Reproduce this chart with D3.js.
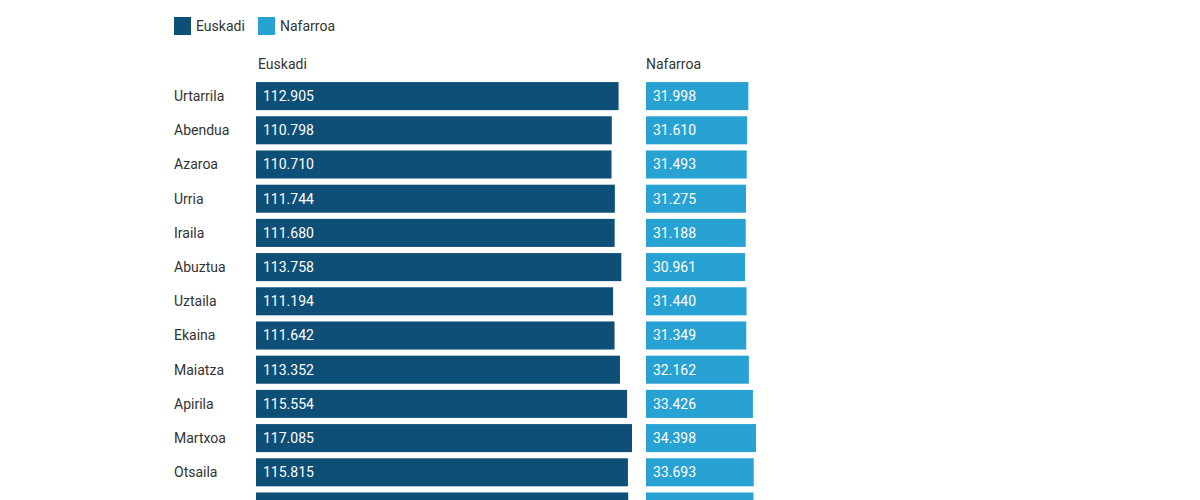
<!DOCTYPE html>
<html><head><meta charset="utf-8">
<script src="https://cdn.jsdelivr.net/npm/d3@7"></script>
<style>body{margin:0;background:#fff;font-family:Roboto,sans-serif;}</style>
</head><body><div id="chart"></div>
<script>
var months = ['Urtarrila', 'Abendua', 'Azaroa', 'Urria', 'Iraila', 'Abuztua', 'Uztaila', 'Ekaina', 'Maiatza', 'Apirila', 'Martxoa', 'Otsaila', 'Urtarrila '];
var euskadi = [112905, 110798, 110710, 111744, 111680, 113758, 111194, 111642, 113352, 115554, 117085, 115815, 115911];
var nafarroa = [31998, 31610, 31493, 31275, 31188, 30961, 31440, 31349, 32162, 33426, 34398, 33693, 33619];
var series = ['Euskadi', 'Nafarroa'];
var colors = ['#0e4f78', '#27a2d3'];

var svg = d3.select('#chart').append('svg').attr('width', 1200).attr('height', 500);
var fmt = function (v) { return d3.format(',')(v).replace(/,/g, '.'); };

var y = d3.scaleBand().domain(d3.range(months.length)).range([79, 79 + 34.2 * months.length]).paddingInner(0.18).paddingOuter(0.09);
var xE = d3.scaleLinear().domain([0, 117085]).range([0, 376]);
var xN = d3.scaleLinear().domain([0, 34398]).range([0, 110]);

// legend
var leg = svg.append('g').selectAll('g').data(series).enter().append('g')
    .attr('transform', function (d, i) { return 'translate(' + (174 + i * 84) + ',17)'; });
leg.append('rect').attr('width', 17).attr('height', 18).attr('fill', function (d, i) { return colors[i]; });
leg.append('text').attr('x', 22).attr('y', 14).attr('font-size', 14).attr('fill', '#333').text(function (d) { return d; });

svg.append('text').attr('x', 258).attr('y', 69).attr('font-size', 14).attr('fill', '#333').text('Euskadi');
svg.append('text').attr('x', 646).attr('y', 69).attr('font-size', 14).attr('fill', '#333').text('Nafarroa');

var rows = svg.append('g').selectAll('g').data(months).enter().append('g')
    .attr('transform', function (d, i) { return 'translate(0,' + y(i) + ')'; });
rows.append('text').attr('x', 174).attr('y', y.bandwidth() / 2 + 5).attr('font-size', 14).attr('fill', '#333').text(function (d) { return d.trim(); });
rows.append('rect').attr('x', 256).attr('width', function (d, i) { return xE(euskadi[i]); })
    .attr('height', y.bandwidth()).attr('fill', colors[0]);
rows.append('text').attr('x', 263).attr('y', y.bandwidth() / 2 + 5).attr('font-size', 14).attr('fill', '#fff')
    .text(function (d, i) { return fmt(euskadi[i]); });
rows.append('rect').attr('x', 646).attr('width', function (d, i) { return xN(nafarroa[i]); })
    .attr('height', y.bandwidth()).attr('fill', colors[1]);
rows.append('text').attr('x', 653).attr('y', y.bandwidth() / 2 + 5).attr('font-size', 14).attr('fill', '#fff')
    .text(function (d, i) { return fmt(nafarroa[i]); });
</script></body></html>
